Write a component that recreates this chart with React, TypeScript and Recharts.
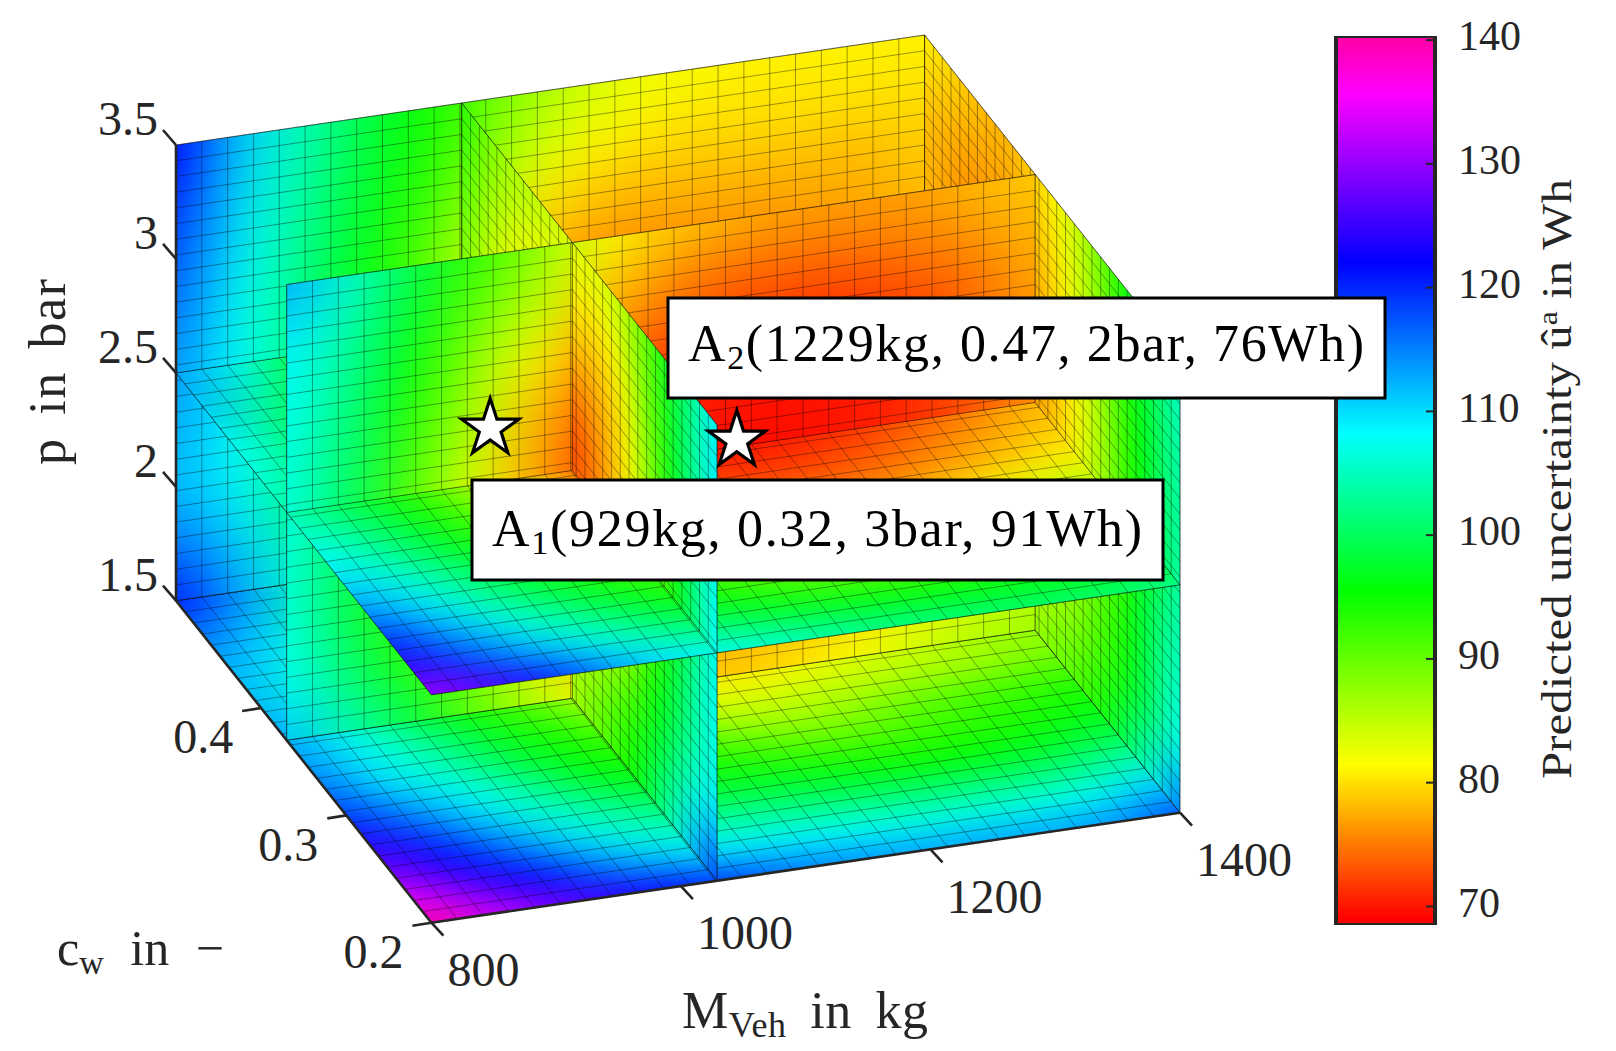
import React from 'react';
import { ScatterChart, Scatter, XAxis, YAxis, BarChart, Bar } from 'recharts';

const W = 1616;
const H = 1051;

// ---- read-off data ----
const M_KNOTS = [800, 850, 900, 950, 1000, 1050, 1100, 1150, 1200, 1250, 1300, 1350, 1400];
const CW_KNOTS = [0.2, 0.225, 0.25, 0.275, 0.3, 0.325, 0.35, 0.375, 0.4, 0.425, 0.45, 0.475, 0.5];
const P_KNOTS = [3.5, 3.25, 3.0, 2.75, 2.5, 2.25, 2.0, 1.75, 1.5];

// u at slice cw = 0.5 : rows p, columns M
const SLICE_CW_BACK = [
  [122, 111, 105, 99, 95, 90, 86, 83, 82, 81, 81, 81, 81],
  [120, 110, 104, 98, 94, 88, 83, 81, 80, 80, 80, 80, 80],
  [118, 109, 103, 97, 92, 85, 80, 78, 78, 78, 78, 78, 79],
  [116, 108, 102, 96, 90, 83, 77, 76, 76, 76, 76, 77, 78],
  [114, 108, 102, 95, 89, 81, 76, 74, 74, 74, 75, 76, 77],
  [113, 108, 101, 95, 88, 81, 76, 74, 74, 75, 76, 77, 78],
  [112, 108, 101, 95, 89, 82, 78, 76, 76, 77, 78, 79, 80],
  [116, 110, 103, 97, 91, 85, 81, 79, 79, 80, 81, 82, 83],
  [121, 113, 106, 99, 93, 88, 84, 82, 82, 83, 84, 85, 86],
];
// u at slice cw = 0.37 : rows p, columns M
const SLICE_CW_MID = [
  [113, 106, 99, 93, 88, 82, 79, 78, 77, 77, 77, 78, 79],
  [109, 104, 97, 90, 85, 79, 76, 74, 74, 74, 75, 76, 78],
  [108, 102, 95, 87, 81, 76, 73, 72, 71, 71, 72, 74, 77],
  [107, 101, 93, 85, 78, 73, 71, 70, 70, 70, 71, 73, 76],
  [107, 100, 91, 83, 77, 72, 70, 69.5, 69.5, 70, 71, 73, 76],
  [107, 99, 91, 83, 77, 73, 71, 70, 70, 71, 72, 75, 78],
  [107, 99, 92, 84, 78, 74, 72, 72, 73, 74, 76, 79, 82],
  [108, 101, 94, 87, 81, 77, 76, 77, 78, 79, 81, 83, 85],
  [112, 105, 99, 91, 86, 82, 80, 79, 80, 82, 84, 86, 87],
];
// u at slice M = 1029 : rows p, columns cw
const SLICE_M_MID = [
  [109, 104, 98, 92, 87, 84, 83, 84, 85, 86, 87, 90, 94],
  [109, 104, 98, 91, 85, 81, 80, 81, 82, 83, 85, 88, 92],
  [109, 103, 97, 90, 83, 79, 77, 78, 79, 81, 83, 86, 90],
  [108, 103, 96, 89, 82, 78, 75, 73, 77, 79, 82, 85, 89],
  [108, 102, 95, 88, 81, 77, 74, 72, 76, 78, 81, 84, 88],
  [108, 104, 98, 92, 85, 81, 78, 76, 78, 80, 83, 86, 89],
  [107, 104, 99, 95, 89, 85, 82, 80, 81, 83, 85, 88, 91],
  [110, 107, 102, 97, 93, 90, 87, 85, 85, 87, 89, 91, 94],
  [120, 113, 106, 100, 95, 92, 89, 86, 86, 88, 91, 94, 98],
];
// u at slice M = 1400 : rows p, columns cw
const SLICE_M_RIGHT = [
  [106, 102, 98, 93, 88, 84, 81, 79, 78, 78, 79, 80, 81],
  [105, 101, 97, 92, 87, 83, 80, 78, 77, 77, 77, 78, 79],
  [104, 100, 96, 91, 86, 82, 79, 77, 76, 76, 76, 77, 78],
  [104, 100, 95, 90, 85, 81, 78, 76, 75, 75, 76, 77, 78],
  [104, 99, 95, 90, 85, 81, 78, 76, 76, 76, 76, 77, 78],
  [105, 101, 97, 92, 88, 85, 82, 80, 79, 79, 79, 79, 79],
  [106, 102, 97, 93, 90, 87, 85, 83, 82, 82, 82, 82, 81],
  [108, 103, 98, 94, 91, 88, 87, 85, 84, 84, 84, 84, 84],
  [117, 110, 104, 98, 94, 91, 89, 87, 86, 86, 86, 86, 86],
];
// u at slice p = 1.5 : rows cw, columns M
const SLICE_P_FLOOR = [
  [141, 133, 128, 124, 121, 118, 115, 114, 113, 113, 113, 114, 118],
  [134, 127, 122, 116, 111, 109, 109, 108, 107, 107, 107, 108, 111],
  [128, 122, 116, 110, 106, 104, 103, 102, 101, 101, 101, 102, 105],
  [124, 118, 111, 106, 102, 99, 98, 97, 96, 95, 96, 97, 99],
  [119, 113, 108, 103, 97, 95, 94, 92, 91, 92, 93, 94, 96],
  [116, 109, 105, 99, 95, 92, 89, 87, 87, 89, 91, 92, 93],
  [114, 108, 103, 97, 93, 88, 84, 83, 84, 85, 86, 87, 89],
  [113, 107, 99, 94, 89, 84, 81, 80, 81, 83, 84, 86, 87],
  [112, 106, 100, 95, 90, 86, 82, 81, 82, 83, 84, 86, 87],
  [112, 107, 100, 95, 90, 86, 84, 83, 82, 83, 84, 86, 87],
  [114, 109, 101, 95, 90, 87, 84, 83, 83, 83, 84, 86, 87],
  [117, 111, 103, 96, 91, 87, 85, 84, 83, 84, 85, 86, 87],
  [121, 114, 106, 99, 93, 88, 85, 84, 83, 84, 85, 86, 87],
];
// u at slice p = 2.5 : rows cw, columns M
const SLICE_P_MID = [
  [131, 126, 120, 113, 109, 107, 105, 103, 102, 101, 101, 101, 103],
  [125, 118, 112, 107, 103, 100, 98, 97, 96, 96, 96, 96, 98],
  [120, 113, 107, 102, 98, 95, 93, 91, 90, 90, 91, 92, 94],
  [115, 109, 103, 98, 94, 90, 87, 86, 85, 85, 86, 87, 90],
  [111, 106, 100, 95, 90, 85, 82, 80, 79, 79, 81, 83, 85],
  [108, 103, 97, 91, 85, 80, 76, 74, 74, 75, 77, 79, 81],
  [106, 101, 95, 88, 81, 75, 72, 71, 72, 73, 75, 77, 79],
  [105, 99, 93, 85, 77, 72, 70, 70, 70, 71, 73, 75, 78],
  [107, 100, 93, 85, 78, 73, 71, 70, 70, 71, 73, 75, 78],
  [108, 101, 94, 86, 79, 74, 72, 71, 71, 72, 74, 76, 78],
  [110, 102, 95, 87, 80, 75, 73, 72, 72, 73, 75, 76, 78],
  [112, 105, 96, 88, 81, 76, 74, 73, 73, 74, 75, 77, 78],
  [114, 108, 98, 90, 82, 77, 75, 74, 74, 75, 76, 77, 78],
];

const M_TICKS = [800, 1000, 1200, 1400];
const CW_TICKS = [0.2, 0.3, 0.4];
const P_TICKS = [1.5, 2, 2.5, 3, 3.5];
const CB_TICKS = [70, 80, 90, 100, 110, 120, 130, 140];
const CB_DOMAIN = [68.5, 140.33];

// slice planes, low to high
const M_PLANES = [800, 1029, 1400];
const CW_PLANES = [0.2, 0.37, 0.5];
const P_PLANES = [1.5, 2.5, 3.5];

const ANNOTATIONS = [
  { name: 'A', sub: '1', M: 929, cw: 0.32, p: 3, u: 91 },
  { name: 'A', sub: '2', M: 1229, cw: 0.47, p: 2, u: 76 },
];

// value -> hue, colour map
const CMAP_VALUES = [69, 81.5, 95.5, 108.2, 122, 135.7, 140.33];
const CMAP_HUES = [0, 60, 120, 180, 240, 300, 322];

// ---- styling and projection ----
const SERIF = '"Liberation Serif", "DejaVu Serif", serif';
const INK = '#262626';
const MESH_CELLS = 29;
const AXIS_ORIGIN = { x: 431.4, y: 922.7 };
const VEC_M = { x: 748.6, y: -110 };
const VEC_CW = { x: -255.4, y: -322 };
const VEC_P = { x: 0, y: -455.7 };

type Pt = { M: number; cw: number; p: number };
const project = ({ M, cw, p }: Pt) => {
  const a = (M - 800) / 600;
  const b = (cw - 0.2) / 0.3;
  const c = (p - 1.5) / 2;
  return {
    x: AXIS_ORIGIN.x + a * VEC_M.x + b * VEC_CW.x + c * VEC_P.x,
    y: AXIS_ORIGIN.y + a * VEC_M.y + b * VEC_CW.y + c * VEC_P.y,
  };
};

const hueOf = (v: number) => {
  if (v <= CMAP_VALUES[0]) return CMAP_HUES[0];
  for (let i = 1; i < CMAP_VALUES.length; i++) {
    if (v <= CMAP_VALUES[i]) {
      const t = (v - CMAP_VALUES[i - 1]) / (CMAP_VALUES[i] - CMAP_VALUES[i - 1]);
      return CMAP_HUES[i - 1] + t * (CMAP_HUES[i] - CMAP_HUES[i - 1]);
    }
  }
  return CMAP_HUES[CMAP_HUES.length - 1];
};
const colorOf = (v: number) => `hsl(${hueOf(v).toFixed(1)},100%,50%)`;

type Plane = {
  fixed: 'M' | 'cw' | 'p';
  value: number;
  uKey: 'M' | 'cw';
  vKey: 'cw' | 'p';
  us: number[];
  vs: number[];
  table: number[][];
};
const planeAt = (pl: Plane, u: number, v: number): Pt => {
  const o: any = { [pl.fixed]: pl.value, [pl.uKey]: u, [pl.vKey]: v };
  return o as Pt;
};
const PLANES: Record<string, Plane> = {
  p1: { fixed: 'p', value: P_PLANES[0], uKey: 'M', vKey: 'cw', us: M_KNOTS, vs: CW_KNOTS, table: SLICE_P_FLOOR },
  p2: { fixed: 'p', value: P_PLANES[1], uKey: 'M', vKey: 'cw', us: M_KNOTS, vs: CW_KNOTS, table: SLICE_P_MID },
  c1: { fixed: 'cw', value: CW_PLANES[1], uKey: 'M', vKey: 'p', us: M_KNOTS, vs: P_KNOTS, table: SLICE_CW_MID },
  c2: { fixed: 'cw', value: CW_PLANES[2], uKey: 'M', vKey: 'p', us: M_KNOTS, vs: P_KNOTS, table: SLICE_CW_BACK },
  m1: { fixed: 'M', value: M_PLANES[1], uKey: 'cw', vKey: 'p', us: CW_KNOTS, vs: P_KNOTS, table: SLICE_M_MID },
  m2: { fixed: 'M', value: M_PLANES[2], uKey: 'cw', vKey: 'p', us: CW_KNOTS, vs: P_KNOTS, table: SLICE_M_RIGHT },
};

const MESH: Record<string, number[]> = {
  M: Array.from({ length: MESH_CELLS + 1 }, (_, i) => 800 + (i * 600) / MESH_CELLS),
  cw: Array.from({ length: MESH_CELLS + 1 }, (_, i) => 0.2 + (i * 0.3) / MESH_CELLS),
  p: Array.from({ length: MESH_CELLS + 1 }, (_, i) => 1.5 + (i * 2) / MESH_CELLS),
};

// far-to-near drawing order of the visible cut faces
const buildFaces = () => {
  const faces: any[] = [];
  const push = (key: string, m: number, c: number, q: number) => {
    const pl = PLANES[key];
    const range = (k: string) =>
      k === 'M' ? [M_PLANES[m], M_PLANES[m + 1]] : k === 'cw' ? [CW_PLANES[c], CW_PLANES[c + 1]] : [P_PLANES[q], P_PLANES[q + 1]];
    const ur = range(pl.uKey);
    const vr = range(pl.vKey);
    const ctr = project(planeAt(pl, (ur[0] + ur[1]) / 2, (vr[0] + vr[1]) / 2));
    faces.push({ id: `${key}-${m}${c}${q}`, key, ur, vr, px: ctr.x, py: ctr.y });
  };
  for (const m of [1, 0]) {
    for (const c of [1, 0]) {
      for (const q of [0, 1]) {
        push(q === 0 ? 'p1' : 'p2', m, c, q);
        push(c === 1 ? 'c2' : 'c1', m, c, q);
        push(m === 1 ? 'm2' : 'm1', m, c, q);
      }
    }
  }
  return faces;
};
const faceRows = buildFaces();

const FaceShape = (props: any) => {
  const { cx, cy, payload: f } = props;
  if (cx == null) return null;
  const pl = PLANES[f.key];
  const dx = cx - f.px;
  const dy = cy - f.py;
  const scr = (u: number, v: number) => {
    const s = project(planeAt(pl, u, v));
    return { x: s.x + dx, y: s.y + dy };
  };
  const u0 = pl.us[0];
  const u1 = pl.us[pl.us.length - 1];
  const v0 = pl.vs[0];
  const v1 = pl.vs[pl.vs.length - 1];
  const o = scr(u0, v0);
  const a = scr(u1, v0);
  const b = scr(u0, v1);
  const Lu = Math.hypot(a.x - o.x, a.y - o.y);
  const Lv = Math.hypot(b.x - o.x, b.y - o.y);
  const lu = (u: number) => ((u - u0) / (u1 - u0)) * Lu;
  const lv = (v: number) => ((v - v0) / (v1 - v0)) * Lv;
  const stepU = Lu / (pl.us.length - 1);
  const stepV = Lv / (pl.vs.length - 1);
  const PAD = 200;
  const matrix = `matrix(${(a.x - o.x) / Lu} ${(a.y - o.y) / Lu} ${(b.x - o.x) / Lv} ${(b.y - o.y) / Lv} ${o.x} ${o.y})`;
  const tiles: React.ReactNode[] = [];
  pl.table.forEach((row, i) => {
    row.forEach((val, j) => {
      const x0 = j === 0 ? -PAD : (j - 0.5) * stepU;
      const x1 = j === row.length - 1 ? Lu + PAD : (j + 0.5) * stepU;
      const y0 = i === 0 ? -PAD : (i - 0.5) * stepV;
      const y1 = i === pl.table.length - 1 ? Lv + PAD : (i + 0.5) * stepV;
      tiles.push(<rect key={`${i}-${j}`} x={x0} y={y0} width={x1 - x0 + 1} height={y1 - y0 + 1} fill={colorOf(val)} />);
    });
  });
  const rx = Math.min(lu(f.ur[0]), lu(f.ur[1]));
  const rw = Math.abs(lu(f.ur[1]) - lu(f.ur[0]));
  const ry = Math.min(lv(f.vr[0]), lv(f.vr[1]));
  const rh = Math.abs(lv(f.vr[1]) - lv(f.vr[0]));
  let d = '';
  const seg = (s: { x: number; y: number }, e: { x: number; y: number }) => {
    d += `M${s.x.toFixed(2)} ${s.y.toFixed(2)}L${e.x.toFixed(2)} ${e.y.toFixed(2)}`;
  };
  const inR = (x: number, r: number[]) => x >= Math.min(r[0], r[1]) - 1e-9 && x <= Math.max(r[0], r[1]) + 1e-9;
  MESH[pl.uKey].filter((x) => inR(x, f.ur)).forEach((x) => seg(scr(x, f.vr[0]), scr(x, f.vr[1])));
  MESH[pl.vKey].filter((x) => inR(x, f.vr)).forEach((x) => seg(scr(f.ur[0], x), scr(f.ur[1], x)));
  const corners = [scr(f.ur[0], f.vr[0]), scr(f.ur[1], f.vr[0]), scr(f.ur[1], f.vr[1]), scr(f.ur[0], f.vr[1])];
  const edge = `M${corners.map((c) => `${c.x.toFixed(2)} ${c.y.toFixed(2)}`).join('L')}Z`;
  return (
    <g>
      <defs>
        <filter
          id={`blur-${f.id}`}
          filterUnits="userSpaceOnUse"
          x={-PAD}
          y={-PAD}
          width={Lu + 2 * PAD}
          height={Lv + 2 * PAD}
          colorInterpolationFilters="sRGB"
        >
          <feGaussianBlur stdDeviation={`${stepU * 0.5} ${stepV * 0.5}`} />
        </filter>
        <clipPath id={`clip-${f.id}`}>
          <rect x={rx} y={ry} width={rw} height={rh} />
        </clipPath>
      </defs>
      <g transform={matrix}>
        <g clipPath={`url(#clip-${f.id})`}>
          <g filter={`url(#blur-${f.id})`}>{tiles}</g>
        </g>
      </g>
      <path d={d} fill="none" stroke="#000" strokeOpacity={0.5} strokeWidth={0.75} />
      <path d={edge} fill="none" stroke="#000" strokeOpacity={0.5} strokeWidth={0.75} />
    </g>
  );
};

// axes
const withXY = (p: Pt, extra: any) => {
  const s = project(p);
  return { px: s.x, py: s.y, ...extra };
};
const axisRows = [
  ...M_TICKS.map((M) => withXY({ M, cw: 0.2, p: 1.5 }, { kind: 'M', label: String(M) })),
  ...CW_TICKS.map((cw) => withXY({ M: 800, cw, p: 1.5 }, { kind: 'cw', label: String(cw) })),
  ...P_TICKS.map((p) => withXY({ M: 800, cw: 0.5, p }, { kind: 'p', label: String(p) })),
];
const TICK_STYLE: any = {
  M: { tx: 12, ty: 13, lx: 16, ly: 47, anchor: 'start' },
  cw: { tx: -19, ty: 3, lx: -28, ly: 29, anchor: 'end' },
  p: { tx: -13, ty: -15, lx: -18, ly: -26, anchor: 'end' },
};
const AxisTick = (props: any) => {
  const { cx, cy, payload } = props;
  if (cx == null) return null;
  const s = TICK_STYLE[payload.kind];
  return (
    <g>
      <line x1={cx} y1={cy} x2={cx + s.tx} y2={cy + s.ty} stroke={INK} strokeWidth={2.6} />
      <text x={cx + s.lx} y={cy + s.ly} dy="0.34em" textAnchor={s.anchor} fontFamily={SERIF} fontSize={48} fill={INK}>
        {payload.label}
      </text>
    </g>
  );
};

const edgeStart = project({ M: 800, cw: 0.2, p: 1.5 });
const edgeRows = [
  { px: edgeStart.x, py: edgeStart.y, to: { M: 1400, cw: 0.2, p: 1.5 } },
  { px: edgeStart.x, py: edgeStart.y, to: { M: 800, cw: 0.5, p: 1.5 } },
  { ...withXY({ M: 800, cw: 0.5, p: 1.5 }, {}), to: { M: 800, cw: 0.5, p: 3.5 } },
];
const EdgeLine = (props: any) => {
  const { cx, cy, payload } = props;
  if (cx == null) return null;
  const e = project(payload.to);
  return <line x1={cx} y1={cy} x2={cx + e.x - payload.px} y2={cy + e.y - payload.py} stroke={INK} strokeWidth={2.6} />;
};

// axis titles
const TITLES = [
  { px: 682, py: 1010, id: 'M' },
  { px: 57, py: 948, id: 'cw' },
  { px: 47, py: 372, id: 'p' },
  { px: 1557, py: 479, id: 'cb' },
];
const TitleShape = (props: any) => {
  const { cx, cy, payload } = props;
  if (cx == null) return null;
  const common: any = { fontFamily: SERIF, fill: INK };
  if (payload.id === 'M')
    return (
      <text x={cx} y={cy} dy="0.34em" fontSize={52} wordSpacing={10} textLength={246} lengthAdjust="spacing" {...common}>
        M<tspan fontSize={36} dy="9">Veh</tspan>
        <tspan dy="-9"> in kg</tspan>
      </text>
    );
  if (payload.id === 'cw')
    return (
      <text x={cx} y={cy} dy="0.34em" fontSize={50} wordSpacing={14} {...common}>
        c<tspan fontSize={34} dy="9">w</tspan>
        <tspan dy="-9"> in −</tspan>
      </text>
    );
  if (payload.id === 'p')
    return (
      <text x={cx} y={cy} dy="0.34em" fontSize={52} wordSpacing={8} textLength={186} lengthAdjust="spacing" textAnchor="middle" transform={`rotate(-90 ${cx} ${cy})`} {...common}>
        p in bar
      </text>
    );
  return (
    <text x={cx} y={cy} dy="0.34em" fontSize={42} textLength={600} lengthAdjust="spacingAndGlyphs" textAnchor="middle" transform={`rotate(-90 ${cx} ${cy})`} {...common}>
      Predicted uncertainty û<tspan fontSize={27} dy="-14">a</tspan>
      <tspan dy="14"> in Wh</tspan>
    </text>
  );
};

// stars and labels
const starRows = ANNOTATIONS.map((a) => withXY({ M: a.M, cw: a.cw, p: a.p }, { ...a }));
const StarShape = (props: any) => {
  const { cx, cy } = props;
  if (cx == null) return null;
  const R = 30;
  const r = R * 0.382;
  const pts = Array.from({ length: 10 }, (_, i) => {
    const ang = -Math.PI / 2 + (i * Math.PI) / 5;
    const rr = i % 2 === 0 ? R : r;
    return `${(cx + rr * Math.cos(ang)).toFixed(2)},${(cy + rr * Math.sin(ang)).toFixed(2)}`;
  }).join(' ');
  return <polygon points={pts} fill="#fff" stroke="#000" strokeWidth={3.2} strokeLinejoin="miter" />;
};
const BOX_STYLE = [
  { x: 472, y: 480, w: 691, h: 100, tx: 492, tb: 546, tl: 650 },
  { x: 668, y: 298, w: 717, h: 100, tx: 688, tb: 361, tl: 676 },
];
const BoxShape = (props: any) => {
  const { cx, payload, index } = props;
  if (cx == null) return null;
  const b = BOX_STYLE[index];
  const tail = `(${payload.M}kg, ${payload.cw}, ${payload.p}bar, ${payload.u}Wh)`;
  return (
    <g>
      <rect x={b.x} y={b.y} width={b.w} height={b.h} fill="#fff" stroke="#000" strokeWidth={3} />
      <text x={b.tx} y={b.tb} fontFamily={SERIF} fontSize={52} fill="#000" textLength={b.tl} lengthAdjust="spacing">
        {payload.name}
        <tspan fontSize={34} dy="8">{payload.sub}</tspan>
        <tspan dy="-8">{tail}</tspan>
      </text>
    </g>
  );
};

// colour bar
const cbRows = [{ name: 'bar', range: CB_DOMAIN }];
const CbTick = (props: any) => {
  const { x, y, payload } = props;
  return (
    <g>
      <line x1={x - 9} y1={y} x2={x} y2={y} stroke={INK} strokeWidth={2} />
      <text x={x + 23} y={y - 4} dy="0.34em" fontFamily={SERIF} fontSize={42} fill={INK} textAnchor="start">
        {payload.value}
      </text>
    </g>
  );
};
const cbStops = CMAP_VALUES.map((v, i) => ({
  offset: (v - CB_DOMAIN[0]) / (CB_DOMAIN[1] - CB_DOMAIN[0]),
  color: `hsl(${CMAP_HUES[i]},100%,50%)`,
}));

export default function App() {
  return (
    <div style={{ position: 'absolute', left: 0, top: 0, width: W, height: H, background: '#fff', overflow: 'hidden' }}>
      <div style={{ position: 'absolute', left: 1316, top: 0 }}>
        <BarChart width={300} height={960} data={cbRows} margin={{ top: 36, right: 0, bottom: 35, left: 20 }} barCategoryGap={0}>
          <defs>
            <linearGradient id="cbGrad" x1="0" y1="1" x2="0" y2="0">
              <stop offset={0} stopColor="hsl(0,100%,50%)" />
              {cbStops.map((s) => (
                <stop key={s.offset} offset={s.offset} stopColor={s.color} />
              ))}
            </linearGradient>
          </defs>
          <XAxis dataKey="name" hide />
          <YAxis
            orientation="right"
            type="number"
            domain={CB_DOMAIN}
            ticks={CB_TICKS}
            interval={0}
            width={181}
            axisLine={false}
            tickLine={false}
            tickSize={0}
            tickMargin={0}
            tick={CbTick}
            allowDataOverflow
          />
          <Bar dataKey="range" fill="url(#cbGrad)" stroke={INK} strokeWidth={4} isAnimationActive={false} />
        </BarChart>
      </div>
      <div style={{ position: 'absolute', left: 0, top: 0 }}>
        <ScatterChart width={W} height={H} margin={{ top: 0, right: 0, bottom: 0, left: 0 }} style={{ background: 'transparent' }}>
          <XAxis type="number" dataKey="px" domain={[0, W]} hide allowDataOverflow />
          <YAxis type="number" dataKey="py" domain={[0, H]} reversed hide allowDataOverflow />
          <Scatter data={faceRows} shape={FaceShape} isAnimationActive={false} />
          <Scatter data={edgeRows} shape={EdgeLine} isAnimationActive={false} />
          <Scatter data={axisRows} shape={AxisTick} isAnimationActive={false} />
          <Scatter data={TITLES} shape={TitleShape} isAnimationActive={false} />
          <Scatter data={starRows} shape={StarShape} isAnimationActive={false} />
          <Scatter data={starRows} shape={BoxShape} isAnimationActive={false} />
        </ScatterChart>
      </div>
    </div>
  );
}
